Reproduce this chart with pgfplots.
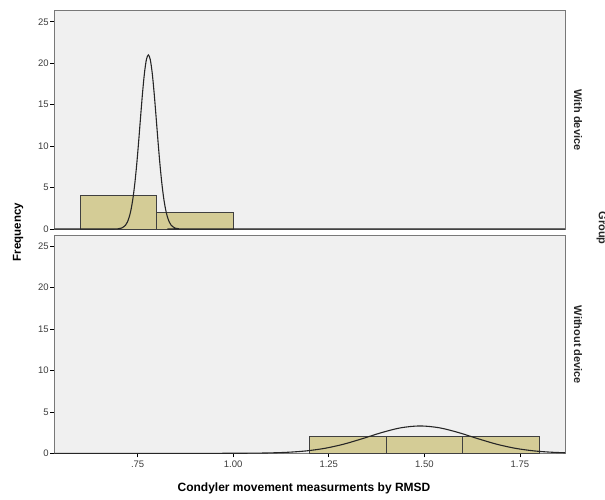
\documentclass[border=0pt]{standalone}
\usepackage{pgfplots}
\pgfplotsset{compat=1.18}
\usepackage{fontspec}
\setmainfont{Liberation Sans}
\definecolor{panelbg}{RGB}{240,240,240}
\definecolor{barfill}{RGB}{212,204,150}
\definecolor{framegray}{RGB}{120,120,120}
\definecolor{ticktext}{RGB}{60,60,60}
\pgfplotsset{
  panel/.style={
    scale only axis,
    width=510.7pt, height=218pt,
    anchor=south west,
    xmin=0.532, xmax=1.868,
    ymin=0, ymax=26.3,
    axis background/.style={fill=panelbg},
    axis line style={framegray, line width=1pt},
    ytick={0,5,10,15,20,25},
    tick align=outside,
    major tick length=4pt,
    tick style={black, line width=0.6pt},
    yticklabel style={font=\fontsize{9.5}{10}\selectfont, text=ticktext, xshift=2pt},
    xticklabel style={font=\fontsize{9.5}{10}\selectfont, text=ticktext},
    ytick pos=left,
    xtick pos=bottom,
    /pgf/number format/assume math mode=true,
    clip=true,
  },
  bars/.style={ybar interval, fill=barfill, draw=black!75, line width=0.7pt},
  curve/.style={black!85, line width=1.1pt, smooth},
}
\begin{document}
\begin{tikzpicture}
\useasboundingbox (0,0) rectangle (605pt,499pt);
% top panel
\begin{axis}[panel, at={(54.3pt,270pt)}, xtick=\empty]
\addplot[bars] coordinates {(0.6,4) (0.8,2) (1.0,2)};
\addplot[curve] coordinates {
(0.532,0) (0.660,0) (0.688,0.004) (0.698,0.02) (0.708,0.11) (0.718,0.44) (0.723,0.82)
(0.728,1.44) (0.733,2.40) (0.738,3.78) (0.743,5.65) (0.748,8.00) (0.753,10.75)
(0.758,13.68) (0.763,16.50) (0.768,18.87) (0.773,20.45) (0.778,21.0)
(0.783,20.45) (0.788,18.87) (0.793,16.50) (0.798,13.68) (0.803,10.75)
(0.808,8.00) (0.813,5.65) (0.818,3.78) (0.823,2.40) (0.828,1.44) (0.833,0.82)
(0.838,0.44) (0.848,0.11) (0.858,0.02) (0.868,0.004) (0.896,0) (1.868,0)};
\end{axis}
% bottom panel
\begin{axis}[panel, at={(54.3pt,45.7pt)}, xtick={0.75,1,1.25,1.5,1.75},
  xticklabels={.75,1.00,1.25,1.50,1.75}]
\addplot[bars] coordinates {(1.2,2) (1.4,2) (1.6,2) (1.8,2)};
\addplot[curve] coordinates {
(0.532,0) (0.939,0) (0.989,0.003) (1.039,0.013) (1.089,0.041) (1.139,0.115) (1.189,0.280)
(1.239,0.594) (1.289,1.101) (1.339,1.780) (1.389,2.508) (1.439,3.081) (1.489,3.3)
(1.539,3.081) (1.589,2.508) (1.639,1.780) (1.689,1.101) (1.739,0.594) (1.789,0.280)
(1.839,0.115) (1.889,0.041)};
\end{axis}
% labels
\node[rotate=90, font=\bfseries\fontsize{11.5}{12}\selectfont] at (18pt,267pt) {Frequency};
\node[font=\bfseries\fontsize{12}{13}\selectfont] at (304pt,11pt) {Condyler movement measurments by RMSD};
\node[rotate=-90, font=\bfseries\fontsize{11}{12}\selectfont, text=black!85] at (578pt,379pt) {With device};
\node[rotate=-90, font=\bfseries\fontsize{11}{12}\selectfont, text=black!85] at (578pt,154pt) {Without device};
\node[rotate=-90, font=\bfseries\fontsize{11}{12}\selectfont, text=black!85, anchor=south] at (593pt,271pt) {Group};
\end{tikzpicture}
\end{document}
